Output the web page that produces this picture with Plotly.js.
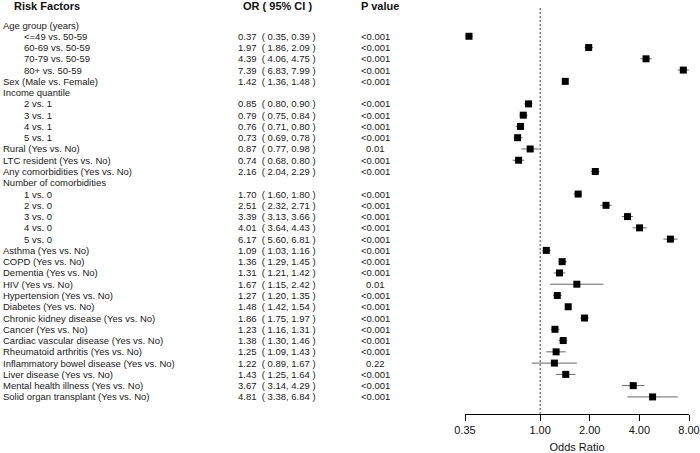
<!DOCTYPE html>
<html>
<head>
<meta charset="utf-8">
<script src="https://cdn.plot.ly/plotly-3.0.1.min.js"></script>
<style>
  html, body { margin: 0; padding: 0; background: #fff; }
  #forest { width: 700px; height: 453px; }
</style>
</head>
<body>
<div id="forest"></div>
<script>
// rows of the table, top to bottom; null = group header row
var labels = [
    'Age group (years)', '<=49 vs. 50-59', '60-69 vs. 50-59', '70-79 vs. 50-59', '80+ vs. 50-59',
    'Sex (Male vs. Female)',
    'Income quantile', '2 vs. 1', '3 vs. 1', '4 vs. 1', '5 vs. 1',
    'Rural (Yes vs. No)', 'LTC resident (Yes vs. No)', 'Any comorbidities (Yes vs. No)',
    'Number of comorbidities', '1 vs. 0', '2 vs. 0', '3 vs. 0', '4 vs. 0', '5 vs. 0',
    'Asthma (Yes vs. No)', 'COPD (Yes vs. No)', 'Dementia (Yes vs. No)', 'HIV (Yes vs. No)',
    'Hypertension (Yes vs. No)', 'Diabetes (Yes vs. No)', 'Chronic kidney disease (Yes vs. No)',
    'Cancer (Yes vs. No)', 'Cardiac vascular disease (Yes vs. No)', 'Rheumatoid arthritis (Yes vs. No)',
    'Inflammatory bowel disease (Yes vs. No)', 'Liver disease (Yes vs. No)',
    'Mental health illness (Yes vs. No)', 'Solid organ transplant (Yes vs. No)'
];
var indented = [
    0, 1, 1, 1, 1,
    0,
    0, 1, 1, 1, 1,
    0, 0, 0,
    0, 1, 1, 1, 1, 1,
    0, 0, 0, 0, 0, 0, 0, 0, 0, 0, 0, 0, 0, 0
];
var oddsRatio = [
    null, 0.37, 1.97, 4.39, 7.39,
    1.42,
    null, 0.85, 0.79, 0.76, 0.73,
    0.87, 0.74, 2.16,
    null, 1.70, 2.51, 3.39, 4.01, 6.17,
    1.09, 1.36, 1.31, 1.67, 1.27, 1.48, 1.86, 1.23, 1.38, 1.25, 1.22, 1.43, 3.67, 4.81
];
var ciLow = [
    null, 0.35, 1.86, 4.06, 6.83,
    1.36,
    null, 0.80, 0.75, 0.71, 0.69,
    0.77, 0.68, 2.04,
    null, 1.60, 2.32, 3.13, 3.64, 5.60,
    1.03, 1.29, 1.21, 1.15, 1.20, 1.42, 1.75, 1.16, 1.30, 1.09, 0.89, 1.25, 3.14, 3.38
];
var ciHigh = [
    null, 0.39, 2.09, 4.75, 7.99,
    1.48,
    null, 0.90, 0.84, 0.80, 0.78,
    0.98, 0.80, 2.29,
    null, 1.80, 2.71, 3.66, 4.43, 6.81,
    1.16, 1.45, 1.42, 2.42, 1.35, 1.54, 1.97, 1.31, 1.46, 1.43, 1.67, 1.64, 4.29, 6.84
];
var pValues = [
    '', '<0.001', '<0.001', '<0.001', '<0.001',
    '<0.001',
    '', '<0.001', '<0.001', '<0.001', '<0.001',
    '0.01', '<0.001', '<0.001',
    '', '<0.001', '<0.001', '<0.001', '<0.001', '<0.001',
    '<0.001', '<0.001', '<0.001', '0.01', '<0.001', '<0.001', '<0.001', '<0.001', '<0.001',
    '<0.001', '0.22', '<0.001', '<0.001', '<0.001'
];
var tickVals = [0.35, 1, 2, 4, 8];
var tickText = ['0.35', '1.00', '2.00', '4.00', '8.00'];

var W = 700, H = 453;
var font = 'Arial, "Liberation Sans", sans-serif';
var nb = '\u00a0';

var rows = labels.map(function(l, i) { return i; });
var px = [], py = [], ePlus = [], eMinus = [];
rows.forEach(function(i) {
    if (oddsRatio[i] === null) return;
    px.push(oddsRatio[i]);
    py.push(i);
    ePlus.push(ciHigh[i] - oddsRatio[i]);
    eMinus.push(oddsRatio[i] - ciLow[i]);
});

var points = {
    x: px,
    y: py,
    mode: 'markers',
    type: 'scatter',
    marker: { symbol: 'square', size: 7, color: '#000' },
    error_x: {
        type: 'data',
        symmetric: false,
        array: ePlus,
        arrayminus: eMinus,
        color: '#666',
        thickness: 1,
        width: 0
    },
    hoverinfo: 'skip',
    showlegend: false
};

var annotations = [];
function note(text, x, y, anchor) {
    annotations.push({
        text: text, x: x, y: y, xref: 'paper', yref: 'y',
        xanchor: anchor, yanchor: 'middle', showarrow: false,
        font: { family: font, size: 9.5, color: '#1a1a1a' }
    });
}
rows.forEach(function(i) {
    note(labels[i], (indented[i] ? 22 : 1) / W, i, 'left');
    if (oddsRatio[i] !== null) {
        var s = oddsRatio[i].toFixed(2) + nb + nb + '(' + nb + ciLow[i].toFixed(2) + ',' + nb +
                ciHigh[i].toFixed(2) + nb + ')';
        note(s, 236 / W, i, 'left');
        note(pValues[i], 375 / W, i, 'center');
    }
});
// column headers
[['<b>Risk Factors</b>', 12 / W, 'left'],
 ['<b>OR ( 95% CI )</b>', 277 / W, 'center'],
 ['<b>P value</b>', 380 / W, 'center']].forEach(function(h) {
    annotations.push({
        text: h[0], x: h[1], y: 1 - 6 / H, xref: 'paper', yref: 'paper',
        xanchor: h[2], yanchor: 'middle', showarrow: false,
        font: { family: font, size: 11, color: '#111' }
    });
});

var axisBottom = 414, rowTop = 25, rowStep = 11.27;
var layout = {
    width: W,
    height: H,
    margin: { l: 0, r: 0, t: 0, b: 0 },
    paper_bgcolor: '#fff',
    plot_bgcolor: '#fff',
    font: { family: font, size: 11, color: '#111' },
    xaxis: {
        type: 'log',
        domain: [465 / W, 689 / W],
        range: [Math.log10(0.35), Math.log10(8)],
        tickvals: tickVals,
        ticktext: tickText,
        ticks: 'outside',
        ticklen: 6,
        tickwidth: 1,
        tickcolor: '#000',
        showline: true,
        linecolor: '#000',
        linewidth: 1,
        showgrid: false,
        zeroline: false,
        tickfont: { family: font, size: 11, color: '#111' },
        title: { text: 'Odds Ratio', standoff: 9, font: { family: font, size: 11, color: '#111' } },
        automargin: false
    },
    yaxis: {
        domain: [(H - axisBottom) / H, 1],
        range: [(axisBottom - rowTop) / rowStep, -rowTop / rowStep],
        visible: false,
        showgrid: false,
        zeroline: false
    },
    shapes: [{
        type: 'line', xref: 'x', yref: 'paper',
        x0: 1, x1: 1, y0: (H - axisBottom) / H, y1: 1 - 8 / H,
        line: { color: '#444', width: 1, dash: '2px,2px' }
    }],
    annotations: annotations
};

Plotly.newPlot('forest', [points], layout, { displayModeBar: false, staticPlot: true });
</script>
</body>
</html>
